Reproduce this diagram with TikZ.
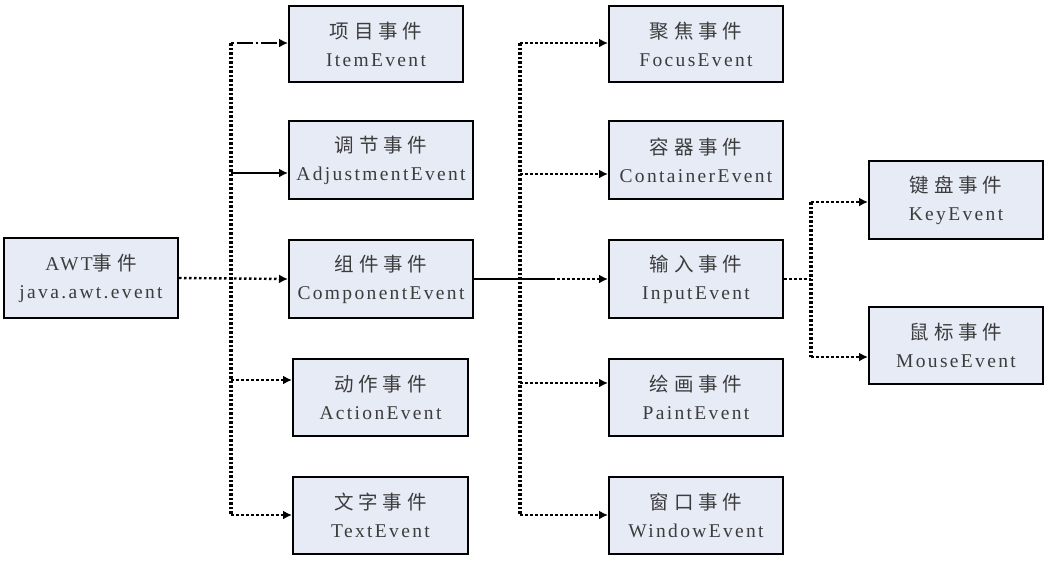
\documentclass[tikz,border=0pt]{standalone}
\usepackage{fontspec}
\setmainfont[LetterSpace=12]{Liberation Serif}
\newfontfamily\cjk[LetterSpace=25]{Noto Sans CJK SC}
\usetikzlibrary{arrows.meta}
\definecolor{boxfill}{RGB}{230,235,246}
\definecolor{textgray}{RGB}{60,60,60}
\begin{document}
\begin{tikzpicture}[x = 1pt, y = -1pt,
    evbox/.style = {draw = black, line width = 2pt, fill = boxfill, align = center,
        inner sep = 0pt, text = textgray, font = \fontsize{19.5}{28}\selectfont},
    trunk/.style = {line width = 3.2pt, dash pattern = on 2.5pt off 2pt},
    dotline/.style = {line width = 2.4pt, dash pattern = on 2.5pt off 2.5pt},
    dashdot/.style = {line width = 2.4pt, dash pattern = on 2.5pt off 3pt on 16pt off 3pt},
    solidline/.style = {line width = 2.2pt},
    tip/.style = {-{Latex[length = 9pt, width = 9pt]}}]
    \useasboundingbox (0,0) rectangle (1049,560);
    % boxes
    \node[evbox, minimum width = 174pt, minimum height = 80pt] (awt) at (91,278) {AWT{\cjk 事件}\\java.awt.event};
    \node[evbox, minimum width = 174pt, minimum height = 76pt] (item) at (376,44) {{\cjk 项目事件}\\ItemEvent};
    \node[evbox, minimum width = 184pt, minimum height = 78pt] (adjust) at (381,160) {{\cjk 调节事件}\\AdjustmentEvent};
    \node[evbox, minimum width = 184pt, minimum height = 78pt] (comp) at (381,279) {{\cjk 组件事件}\\ComponentEvent};
    \node[evbox, minimum width = 175pt, minimum height = 77pt] (action) at (380.5,397.5) {{\cjk 动作事件}\\ActionEvent};
    \node[evbox, minimum width = 175pt, minimum height = 77pt] (text) at (380.5,515.5) {{\cjk 文字事件}\\TextEvent};
    \node[evbox, minimum width = 174pt, minimum height = 76pt] (focus) at (696,44) {{\cjk 聚焦事件}\\FocusEvent};
    \node[evbox, minimum width = 174pt, minimum height = 78pt] (container) at (696,160) {{\cjk 容器事件}\\ContainerEvent};
    \node[evbox, minimum width = 174pt, minimum height = 78pt] (input) at (696,279) {{\cjk 输入事件}\\InputEvent};
    \node[evbox, minimum width = 174pt, minimum height = 77pt] (paint) at (696,397.5) {{\cjk 绘画事件}\\PaintEvent};
    \node[evbox, minimum width = 174pt, minimum height = 77pt] (window) at (696,515.5) {{\cjk 窗口事件}\\WindowEvent};
    \node[evbox, minimum width = 174pt, minimum height = 78pt] (key) at (956,200) {{\cjk 键盘事件}\\KeyEvent};
    \node[evbox, minimum width = 174pt, minimum height = 77pt] (mouse) at (956,345.5) {{\cjk 鼠标事件}\\MouseEvent};
    % junctions
    \coordinate (a1) at (231,43);
    \coordinate (a2) at (231,173);
    \coordinate (a4) at (231,380);
    \coordinate (a5) at (231,515);
    \coordinate (b1) at (520,43);
    \coordinate (b2) at (520,174);
    \coordinate (b3) at (552,279);
    \coordinate (b4) at (520,383);
    \coordinate (b5) at (520,515);
    \coordinate (c1) at (811,202);
    \coordinate (c2) at (811,279);
    \coordinate (c3) at (811,357);
    % first level
    \draw[trunk] (a1) -- (a5);
    \draw[dotline, tip] (awt.east) -- (comp.west);
    \draw[dashdot, tip] (a1) -- (a1 -| item.west);
    \draw[solidline, tip] (a2) -- (a2 -| adjust.west);
    \draw[dotline, tip] (a4) -- (a4 -| action.west);
    \draw[dotline, tip] (a5) -- (a5 -| text.west);
    % second level
    \draw[trunk] (b1) -- (b5);
    \draw[solidline] (comp.east) -- (b3);
    \draw[dotline, tip] (b3) -- (input.west);
    \draw[dotline, tip] (b1) -- (b1 -| focus.west);
    \draw[dotline, tip] (b2) -- (b2 -| container.west);
    \draw[dotline, tip] (b4) -- (b4 -| paint.west);
    \draw[dotline, tip] (b5) -- (b5 -| window.west);
    % third level
    \draw[trunk] (c1) -- (c3);
    \draw[dotline] (input.east) -- (c2);
    \draw[dotline, tip] (c1) -- (c1 -| key.west);
    \draw[dotline, tip] (c3) -- (c3 -| mouse.west);
\end{tikzpicture}
\end{document}
